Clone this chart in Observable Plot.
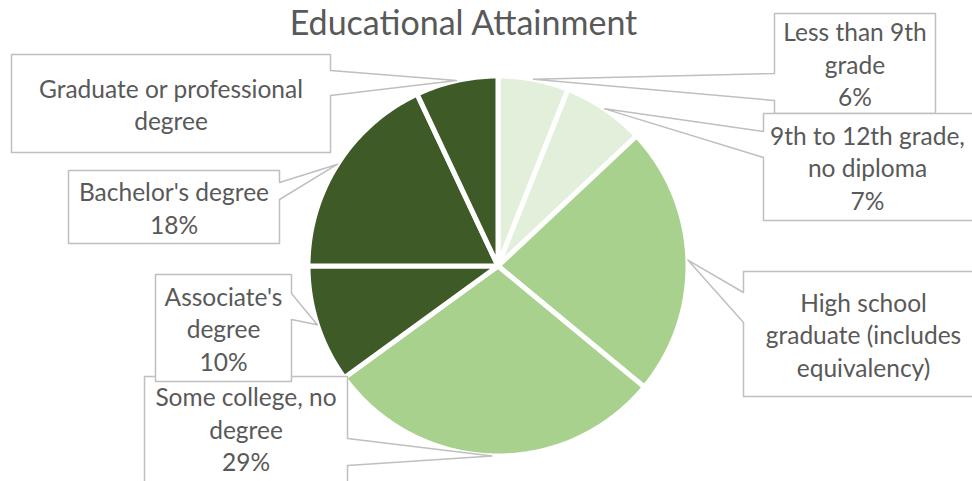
<!DOCTYPE html>
<html>
<head>
<meta charset="utf-8">
<script src="https://cdn.jsdelivr.net/npm/d3@7"></script>
<script src="https://cdn.jsdelivr.net/npm/@observablehq/plot@0.6"></script>
<style>
  body { margin: 0; background: #ffffff; }
  #chart svg { display: block; }
</style>
</head>
<body>
<div id="chart"></div>
<script>
// ---- Data ----
const categories = [
  "Less than 9th grade",
  "9th to 12th grade, no diploma",
  "High school graduate (includes equivalency)",
  "Some college, no degree",
  "Associate's degree",
  "Bachelor's degree",
  "Graduate or professional degree"
];
const shares = [6, 7, 23, 29, 10, 18, 7];
const labelNameLines = [
  ["Less than 9th", "grade"],
  ["9th to 12th grade,", "no diploma"],
  ["High school", "graduate (includes", "equivalency)"],
  ["Some college, no", "degree"],
  ["Associate's", "degree"],
  ["Bachelor's degree"],
  ["Graduate or professional", "degree"]
];
const showPercent = [true, true, false, true, true, true, false];
const chartTitle = "Educational Attainment";

// ---- Styles / layout (not data) ----
const sliceColors = ["#e2efda", "#e2efda", "#a9d18e", "#a9d18e", "#3d5a27", "#3d5a27", "#3d5a27"];
const W = 972, H = 481;
const cx = 497.5, cy = 265.5, R = 190;
// callout boxes: [x1, y1, x2, y2, pointer side, pointer base a, pointer base b]
const boxLayout = [
  [774, 13, 935, 113, "left", 73, 100],
  [763, 113, 975, 220, "left", 131, 157],
  [743, 271, 985, 396, "left", 292, 322],
  [144, 376, 347, 492, "right", 438, 465],
  [155, 274, 291, 381, "right", 293, 319],
  [68, 170, 279, 243, "right", 182, 199],
  [11, 54, 330, 152, "right", 70, 95]
];
const FONT = "Lato, 'Open Sans', sans-serif";
const textColor = "#595959";

// ---- Derived geometry from data ----
const arcs = d3.pie().sort(null).value(d => d)(shares);
const toXY = (a, r) => [cx + r * Math.sin(a), cy - r * Math.cos(a)];

const slicePts = [];
arcs.forEach((a, i) => {
  slicePts.push({k: i, x: cx, y: cy, c: sliceColors[i]});
  const n = Math.max(2, Math.ceil((a.endAngle - a.startAngle) / (Math.PI / 180)));
  for (let j = 0; j <= n; j++) {
    const t = a.startAngle + (a.endAngle - a.startAngle) * j / n;
    const [x, y] = toXY(t, R);
    slicePts.push({k: i, x, y, c: sliceColors[i]});
  }
});

const calloutPts = [];
const labels = [];
arcs.forEach((a, i) => {
  const [x1, y1, x2, y2, side, pa, pb] = boxLayout[i];
  const [tx, ty] = toXY((a.startAngle + a.endAngle) / 2, R);
  let poly;
  if (side === "right") {
    poly = [[x1, y1], [x2, y1], [x2, pa], [tx, ty], [x2, pb], [x2, y2], [x1, y2]];
  } else {
    poly = [[x1, y1], [x2, y1], [x2, y2], [x1, y2], [x1, pb], [tx, ty], [x1, pa]];
  }
  poly.forEach(([x, y]) => calloutPts.push({k: i, x, y}));
  const lines = labelNameLines[i].slice();
  if (showPercent[i]) lines.push(d3.format(".0f")(shares[i]) + "%");
  labels.push({x: (x1 + Math.min(x2, W + 1)) / 2, y: (y1 + Math.min(y2, 482)) / 2, text: lines.join("\n")});
});
// fix centers for clipped boxes to match reference text placement
labels[1].x = 867; labels[2].x = 863; labels[3].y = 428;

const chart = Plot.plot({
  width: W,
  height: H,
  margin: 0,
  x: {domain: [0, W], range: [0, W], axis: null},
  y: {domain: [0, H], range: [0, H], axis: null},
  color: {type: "identity"},
  style: {fontFamily: FONT, background: "#ffffff"},
  marks: [
    Plot.line(slicePts, {
      x: "x", y: "y", z: "k", fill: "c",
      stroke: "#ffffff", strokeWidth: 5, curve: "linear-closed"
    }),
    Plot.line(calloutPts, {
      x: "x", y: "y", z: "k", fill: "#ffffff",
      stroke: "#bfbfbf", strokeWidth: 1.5, curve: "linear-closed"
    }),
    Plot.text(labels, {
      x: "x", y: "y", text: "text",
      fontSize: 24.5, lineHeight: 32.5 / 24.5, fill: textColor,
      textAnchor: "middle", lineAnchor: "middle"
    }),
    Plot.text([chartTitle], {
      x: () => 463, y: () => 24, text: d => d,
      fontSize: 34, fill: textColor, textAnchor: "middle", lineAnchor: "middle"
    })
  ]
});
document.getElementById("chart").appendChild(chart);
</script>
</body>
</html>
